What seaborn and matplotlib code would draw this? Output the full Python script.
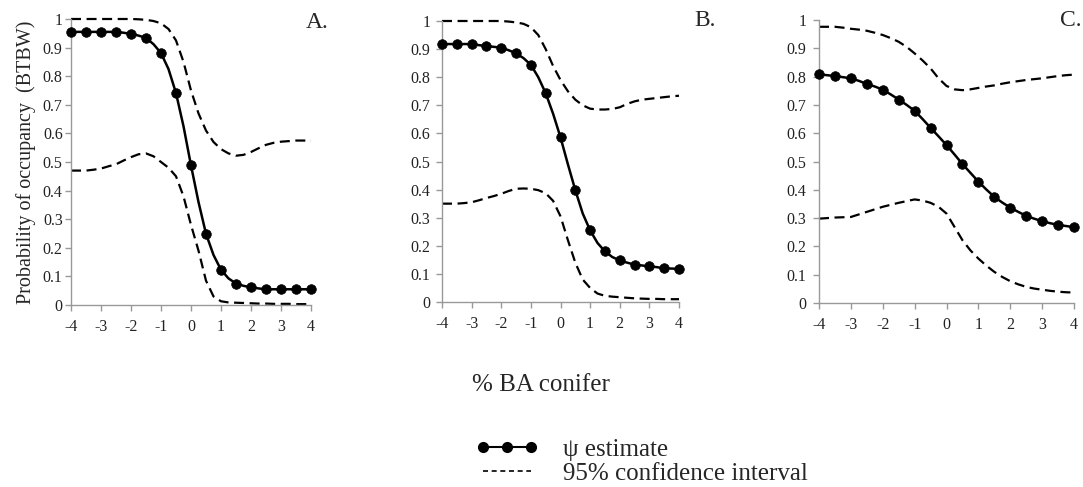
import numpy as np
import pandas as pd
import matplotlib
matplotlib.use("Agg")
import matplotlib.pyplot as plt
import seaborn as sns
from matplotlib.lines import Line2D

# x values for the estimate markers, and the finer grid for the traced curves
x = [-4, -3.5, -3, -2.5, -2, -1.5, -1, -0.5, 0, 0.5, 1, 1.5, 2, 2.5, 3, 3.5, 4]
ci_x = [-4, -3.75, -3.5, -3.25, -3, -2.75, -2.5, -2.25, -2, -1.75, -1.5, -1.25, -1,
        -0.75, -0.5, -0.25, 0, 0.25, 0.5, 0.75, 1, 1.25, 1.5, 1.75, 2, 2.25, 2.5,
        2.75, 3, 3.25, 3.5, 3.75, 4]

# panel A
est_a = [0.955, 0.955, 0.955, 0.955, 0.948, 0.934, 0.881, 0.741, 0.488, 0.249,
         0.123, 0.075, 0.062, 0.055, 0.055, 0.055, 0.055]
curve_a = [0.955, 0.955, 0.955, 0.955, 0.955, 0.955, 0.955, 0.952, 0.948, 0.942,
           0.934, 0.912, 0.881, 0.825, 0.741, 0.625, 0.488, 0.36, 0.249, 0.175,
           0.123, 0.093, 0.075, 0.067, 0.062, 0.058, 0.055, 0.055, 0.055, 0.055,
           0.055, 0.055, 0.055]
upper_a = [1.0, 1.0, 1.0, 1.0, 1.0, 1.0, 1.0, 1.0, 1.0, 0.999, 0.997, 0.993, 0.985,
           0.965, 0.925, 0.85, 0.75, 0.67, 0.61, 0.57, 0.545, 0.53, 0.522, 0.525,
           0.535, 0.548, 0.56, 0.567, 0.571, 0.573, 0.575, 0.575, 0.575]
lower_a = [0.47, 0.47, 0.47, 0.473, 0.477, 0.485, 0.492, 0.505, 0.517, 0.527, 0.53,
           0.52, 0.50, 0.48, 0.45, 0.38, 0.28, 0.19, 0.085, 0.03, 0.013, 0.009,
           0.008, 0.007, 0.006, 0.005, 0.005, 0.004, 0.004, 0.004, 0.003, 0.003, 0.003]

# panel B
est_b = [0.918, 0.918, 0.918, 0.911, 0.905, 0.885, 0.844, 0.743, 0.586, 0.398,
         0.255, 0.18, 0.148, 0.133, 0.127, 0.12, 0.118]
curve_b = [0.918, 0.918, 0.918, 0.918, 0.918, 0.914, 0.911, 0.908, 0.905, 0.896,
           0.885, 0.868, 0.844, 0.80, 0.743, 0.67, 0.586, 0.49, 0.398, 0.315,
           0.255, 0.21, 0.18, 0.16, 0.148, 0.14, 0.133, 0.13, 0.127, 0.124,
           0.12, 0.119, 0.118]
upper_b = [1.0, 1.0, 1.0, 1.0, 1.0, 1.0, 1.0, 1.0, 1.0, 0.998, 0.995, 0.99, 0.978,
           0.95, 0.90, 0.84, 0.79, 0.75, 0.72, 0.70, 0.688, 0.685, 0.685, 0.687,
           0.693, 0.705, 0.714, 0.72, 0.723, 0.726, 0.729, 0.732, 0.734]
lower_b = [0.35, 0.35, 0.35, 0.352, 0.355, 0.362, 0.37, 0.377, 0.385, 0.395, 0.403,
           0.404, 0.403, 0.398, 0.387, 0.36, 0.305, 0.22, 0.14, 0.08, 0.05, 0.03,
           0.022, 0.019, 0.017, 0.015, 0.013, 0.012, 0.011, 0.011, 0.01, 0.01, 0.01]

# panel C
est_c = [0.808, 0.802, 0.794, 0.774, 0.754, 0.719, 0.679, 0.619, 0.558, 0.491,
         0.429, 0.375, 0.337, 0.308, 0.289, 0.276, 0.268]
curve_c = [0.808, 0.805, 0.802, 0.798, 0.794, 0.785, 0.774, 0.765, 0.754, 0.737,
           0.719, 0.70, 0.679, 0.65, 0.619, 0.589, 0.558, 0.525, 0.491, 0.46,
           0.429, 0.401, 0.375, 0.355, 0.337, 0.322, 0.308, 0.298, 0.289, 0.282,
           0.276, 0.272, 0.268]
upper_c = [0.976, 0.976, 0.976, 0.973, 0.969, 0.966, 0.962, 0.955, 0.947, 0.936,
           0.923, 0.905, 0.882, 0.857, 0.829, 0.794, 0.767, 0.755, 0.752, 0.755,
           0.76, 0.765, 0.769, 0.775, 0.78, 0.784, 0.788, 0.791, 0.794, 0.798,
           0.802, 0.805, 0.807]
lower_c = [0.298, 0.3, 0.302, 0.303, 0.304, 0.313, 0.322, 0.331, 0.34, 0.347, 0.354,
           0.36, 0.366, 0.362, 0.354, 0.34, 0.316, 0.269, 0.222, 0.186, 0.157, 0.132,
           0.11, 0.092, 0.077, 0.066, 0.057, 0.051, 0.047, 0.043, 0.04, 0.038, 0.037]

panels = ["A.", "B.", "C."]
x_ticks = [-4, -3, -2, -1, 0, 1, 2, 3, 4]
y_ticks = [0, 0.1, 0.2, 0.3, 0.4, 0.5, 0.6, 0.7, 0.8, 0.9, 1]
y_labels = ["0", "0.1", "0.2", "0.3", "0.4", "0.5", "0.6", "0.7", "0.8", "0.9", "1"]

sns.set_style("ticks")
plt.rcParams['font.family'] = ['Liberation Serif', 'DejaVu Serif']

fig = plt.figure(figsize=(10.83, 4.87), dpi=100)
W, H = 1083, 487
boxes = [(71, 19, 311, 305), (442, 21, 679, 302), (819, 20, 1074, 303)]
label_pos = [(306, 22), (694, 20), (1060, 20)]
ypads = [2, 4.5, 5]
data = [(est_a, curve_a, upper_a, lower_a), (est_b, curve_b, upper_b, lower_b),
        (est_c, curve_c, upper_c, lower_c)]

dash = (0, (4.5, 2.5))
for (l, t, r, b), (est, curve, up, lo), name, (lx, ly), yp in zip(
        boxes, data, panels, label_pos, ypads):
    ax = fig.add_axes([l / W, 1 - b / H, (r - l) / W, (b - t) / H])
    ci = pd.DataFrame({"x": ci_x, "upper": up, "lower": lo, "curve": curve})
    sns.lineplot(data=ci, x="x", y="upper", ax=ax, color="black", lw=1.6,
                 linestyle=dash, clip_on=False)
    sns.lineplot(data=ci, x="x", y="lower", ax=ax, color="black", lw=1.6,
                 linestyle=dash, clip_on=False)
    sns.lineplot(data=ci, x="x", y="curve", ax=ax, color="black", lw=1.8,
                 clip_on=False)
    sns.scatterplot(x=x, y=est, ax=ax, color="black", s=48, edgecolor="black",
                    linewidth=0.5, clip_on=False, zorder=5)
    ax.set_xlim(-4, 4)
    ax.set_ylim(0, 1)
    ax.set_xticks(x_ticks)
    ax.set_xticklabels([str(v) for v in x_ticks])
    ax.set_yticks(y_ticks)
    ax.set_yticklabels(y_labels)
    ax.set_xlabel("")
    ax.set_ylabel("")
    sns.despine(ax=ax)
    for s in ["left", "bottom"]:
        ax.spines[s].set_color("#999999")
        ax.spines[s].set_linewidth(1.0)
    ax.tick_params(direction="out", length=4, width=1, color="#999999",
                   labelsize=11.5, labelcolor="#222222")
    ax.tick_params(axis="y", pad=yp)
    ax.tick_params(axis="x", pad=6)
    fig.text(lx / W, 1 - ly / H, name, fontsize=17, ha="left", va="center")
    if name == "A.":
        ax.set_ylabel("Probability of occupancy  (BTBW)", fontsize=14.5, labelpad=5)

fig.text(541 / W, 1 - 385 / H, "% BA conifer", fontsize=18, ha="center", va="center")

handles = [Line2D([], [], color="black", lw=1.5, marker="o", markersize=7),
           Line2D([], [], color="black", lw=1.2, linestyle=(0, (3, 2.2)))]
fig.legend(handles, ["ψ estimate", "95% confidence interval"], numpoints=3,
           frameon=False, fontsize=18, handlelength=2.5, handletextpad=1.0,
           labelspacing=0.05, borderpad=0.2, loc="upper left",
           bbox_to_anchor=(458 / W, 1 - 421 / H))

fig.savefig("out.png", dpi=100)
